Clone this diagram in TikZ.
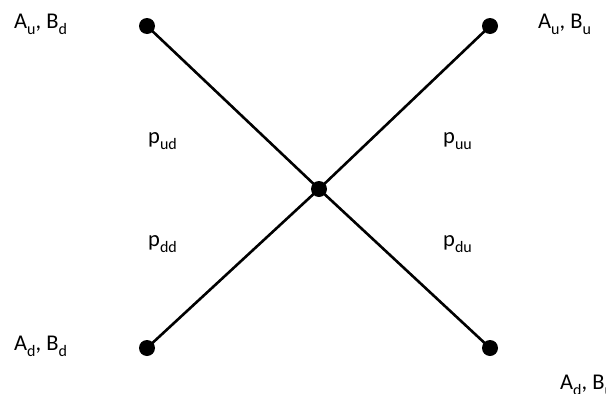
\documentclass[tikz,border=0pt]{standalone}
\usepackage{fontspec}
\setmainfont{Carlito}
\usetikzlibrary{positioning}
\newcommand{\subidx}[1]{\raisebox{-0.28em}{\fontsize{16}{16}\selectfont #1}}

\begin{document}
\begin{tikzpicture}[
  x=1pt, y=-1pt,
  every node/.style={font=\fontsize{22.5}{26}\selectfont},
  dot/.style={circle, fill=black, inner sep=0pt, minimum size=16pt},
  branch/.style={line width=2.6pt},
  state/.style={anchor=base west, inner sep=0pt},
  prob/.style={anchor=base west, inner sep=0pt}
]
  \useasboundingbox (0,0) rectangle (606,394);

  % Knoten des Baums
  \node[dot] (mid) at (319,189) {};
  \node[dot] (ul) at (147,26) {};
  \node[dot] (ur) at (490,26) {};
  \node[dot] (dl) at (147,348) {};
  \node[dot] (dr) at (490,348) {};

  % Zustaende
  \node[state] (sul) at (14,28.5) {A\subidx{u}, B\subidx{d}};
  \node[state] (sur) at (538,28.5) {A\subidx{u}, B\subidx{u}};
  \node[state] (sdl) at (14,350.5) {A\subidx{d}, B\subidx{d}};
  \node[state] (sdr) at (560,389.5) {A\subidx{d}, B\subidx{u}};

  % Wahrscheinlichkeiten
  \node[prob] (pud) at (148,143) {p\subidx{ud}};
  \node[prob] (puu) at (443,143) {p\subidx{uu}};
  \node[prob] (pdd) at (148,246) {p\subidx{dd}};
  \node[prob] (pdu) at (443,246) {p\subidx{du}};

  % Kanten
  \draw[branch] (ul.center) -- (mid.center) -- (dr.center);
  \draw[branch] (dl.center) -- (mid.center) -- (ur.center);

\end{tikzpicture}
\end{document}
